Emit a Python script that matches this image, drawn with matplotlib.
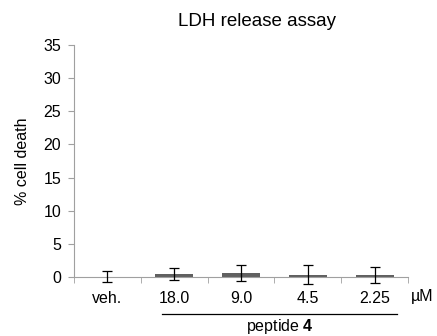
import numpy as np
import matplotlib
matplotlib.use("Agg")
import matplotlib.pyplot as plt

plt.rcParams['font.family'] = ['Liberation Sans', 'DejaVu Sans']
plt.rcParams['mathtext.fontset'] = 'custom'
plt.rcParams['mathtext.bf'] = 'Liberation Sans:bold'
plt.rcParams['mathtext.rm'] = 'Liberation Sans'

# данные
labels = ['veh.', '18.0', '9.0', '4.5', '2.25']
means = [0.05, 0.45, 0.6, 0.3, 0.25]
errors = [0.9, 0.95, 1.15, 1.45, 1.2]
bar_colors = ['#c8c8c8', '#606060', '#606060', '#606060', '#606060']

fig = plt.figure(figsize=(4.37, 3.36), dpi=100)
ax = fig.add_axes([0.169, 0.176, 0.765, 0.69])

x = np.arange(len(labels))
ax.bar(x, means, width=0.57, color=bar_colors, zorder=2)
eb = ax.errorbar(x, means, yerr=errors, fmt='none', ecolor='black',
                 elinewidth=0.9, capsize=3.5, capthick=0.9, zorder=3)
for art in eb.lines[1] + eb.lines[2]:
    art.set_clip_on(False)

ax.set_xlim(-0.5, len(labels) - 0.5)
ax.set_ylim(0, 35)
ax.set_yticks(np.arange(0, 36, 5))
ax.tick_params(axis='y', labelsize=11.5, length=4, color='#a0a0a0', pad=5)

ax.set_xticks(x)
ax.set_xticklabels(labels)
ax.set_xticks(np.arange(-0.5, len(labels), 1), minor=True)
ax.tick_params(axis='x', which='major', length=0, labelsize=11.5, pad=10)
ax.tick_params(axis='x', which='minor', length=4, color='#a0a0a0')

for side in ['top', 'right']:
    ax.spines[side].set_visible(False)
for side in ['left', 'bottom']:
    ax.spines[side].set_color('#a0a0a0')

ax.set_ylabel('% cell death', fontsize=11.5, labelpad=10)
fig.text(0.588, 0.935, 'LDH release assay', fontsize=13.5, ha='center', va='center')

# подпись единиц и группы пептида
fig.text(0.966, 0.118, 'µM', fontsize=11.5, ha='center', va='center')
fig.add_artist(plt.Line2D([0.371, 0.908], [0.065, 0.065], color='black', lw=0.9))
fig.text(0.64, 0.028, r'peptide $\mathbf{4}$', fontsize=11.5, ha='center', va='center')

fig.savefig('out.png', dpi=100)
